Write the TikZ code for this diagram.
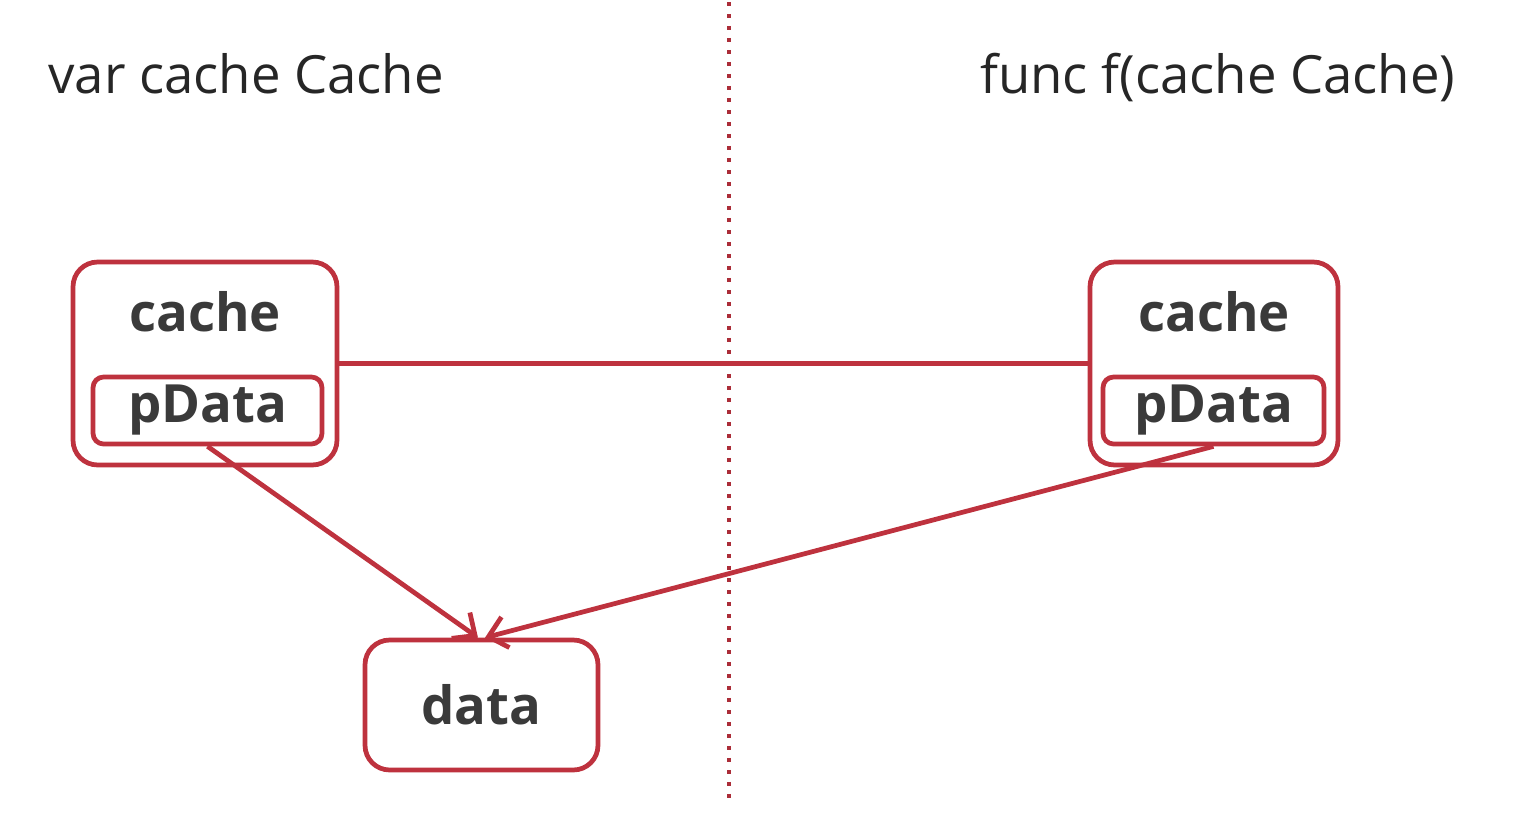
\documentclass[tikz,border=0pt]{standalone}
\usepackage{fontspec}
\setmainfont{Open Sans}
\usepackage{xcolor}
\usepackage{tikz}
\usetikzlibrary{positioning,arrows.meta}

\definecolor{boxred}{RGB}{190,50,62}
\definecolor{inkgray}{RGB}{58,58,58}

\begin{document}
\begin{tikzpicture}[x=0.02cm, y=-0.02cm,
  outer/.style={draw=boxred, line width=2.7pt, rounded corners=14pt,
    minimum width=5.28cm, minimum height=4.06cm, fill=white},
  inner/.style={draw=boxred, line width=2.7pt, rounded corners=6pt,
    minimum width=4.58cm, minimum height=1.34cm, inner sep=0pt,
    font=\fontsize{30}{30}\selectfont\bfseries, text=inkgray},
  lbl/.style={inner sep=0pt, font=\fontsize{30}{30}\selectfont\bfseries, text=inkgray},
  title/.style={inner sep=0pt, anchor=base west, font=\fontsize{30}{30}\selectfont, text=black!85},
  link/.style={draw=boxred, line width=2.7pt},
  ar/.style={link, -{Straight Barb[length=10pt, width=18pt, line width=2.7pt]}},
  sep/.style={draw=boxred!90!black, line width=2.6pt, dash pattern=on 0.08cm off 0.16cm}
]
\useasboundingbox (0,0) rectangle (1522,812);

% divider
\coordinate (septop) at (729,2);
\coordinate (sepbot) at (729,800);
\draw[sep] (septop) -- (sepbot);

% headings
\node[title] (vardecl) at (48,93) {var cache Cache};
\node[title] (funcdecl) at (980,93) {func f(cache Cache)};

% caller side
\node[outer] (lcache) at (205,363.5) {};
\node[lbl] (lname) at (205,312) {cache};
\node[inner] (lpdata) at (207.5,410.5) {pData};

% callee side
\node[outer, minimum width=4.96cm] (rcache) at (1214,363.5) {};
\node[lbl] (rname) at (1214,312) {cache};
\node[inner, minimum width=4.42cm] (rpdata) at (1213.5,410.5) {pData};

% shared data
\node[outer, minimum width=4.66cm, minimum height=2.6cm] (data) at (481.5,705) {};
\node[lbl] (dname) at (data) {data};

% copy link and pointers
\draw[link] (lcache.east) -- (rcache.west);
\draw[ar] (lpdata.south) -- ([xshift=-2pt]data.north);
\draw[ar] (rpdata.south) -- ([xshift=2pt]data.north);
\end{tikzpicture}
\end{document}
